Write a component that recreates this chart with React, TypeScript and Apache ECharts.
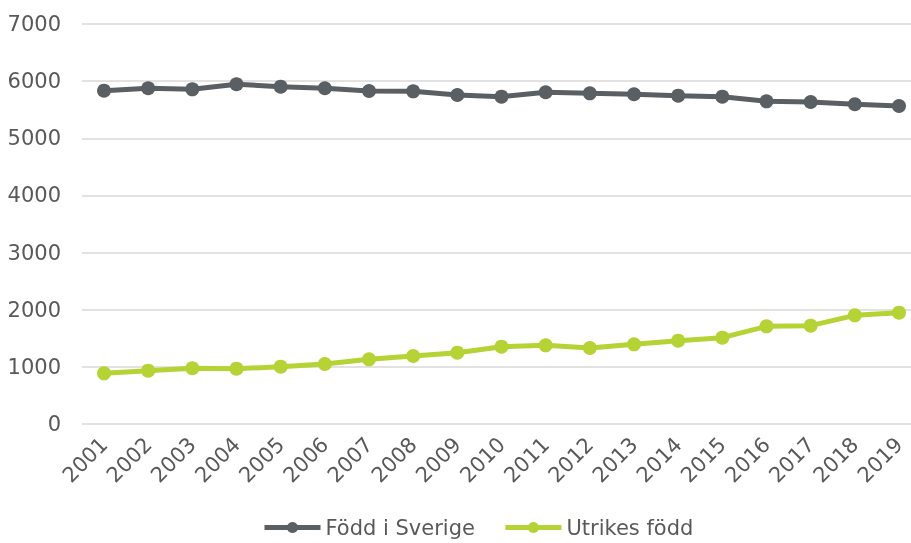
import React, { useEffect, useRef } from "react";
import * as echarts from "echarts";

const years = ["2001","2002","2003","2004","2005","2006","2007","2008","2009","2010","2011","2012","2013","2014","2015","2016","2017","2018","2019"];
const foddISverige = [5833, 5875, 5857, 5945, 5903, 5875, 5828, 5822, 5758, 5728, 5805, 5787, 5770, 5746, 5728, 5647, 5635, 5595, 5565];
const utrikesFodd = [887, 933, 975, 968, 1003, 1050, 1132, 1190, 1248, 1353, 1377, 1330, 1394, 1458, 1511, 1709, 1721, 1902, 1948];
const seriesNames = ["Född i Sverige", "Utrikes född"];
const colors = ["#595f63", "#b5d334"];

export default function App() {
  const ref = useRef<HTMLDivElement>(null);
  useEffect(() => {
    if (!ref.current) return;
    const chart = echarts.init(ref.current, undefined, { renderer: "svg" });
    const font = "DejaVu Sans, sans-serif";
    const textColor = "#595959";
    chart.setOption({
      animation: false,
      color: colors,
      grid: [
        { left: 104, right: 12, top: 24, bottom: 119 },
        { left: 82, right: 0, top: 24, bottom: 119 },
      ],
      legend: {
        left: 257,
        top: 512,
        itemWidth: 56,
        itemHeight: 14,
        itemGap: 28,
        textStyle: { fontSize: 21, color: textColor, fontFamily: font },
        data: seriesNames.map((n, i) => ({
          name: n,
          lineStyle: { width: 5, color: colors[i] },
          itemStyle: { color: colors[i] },
        })),
      },
      xAxis: [
        {
          type: "category",
          gridIndex: 0,
          data: years,
          boundaryGap: false,
          axisLine: { show: false },
          axisTick: { show: false },
          axisLabel: { rotate: 45, fontSize: 21, color: textColor, fontFamily: font, margin: 17, interval: 0 },
        },
        {
          type: "value",
          gridIndex: 1,
          show: false,
        },
      ],
      yAxis: [
        {
          type: "value",
          gridIndex: 0,
          min: 0,
          max: 7000,
          interval: 1000,
          show: false,
        },
        {
          type: "value",
          gridIndex: 1,
          min: 0,
          max: 7000,
          interval: 1000,
          axisLine: { show: false },
          axisTick: { show: false },
          axisLabel: { fontSize: 21, color: textColor, fontFamily: font, margin: 21, formatter: (v: number) => String(v) },
          splitLine: { lineStyle: { color: "#d9d9d9", width: 1.5 } },
        },
      ],
      series: [
        {
          name: seriesNames[0],
          type: "line",
          xAxisIndex: 0,
          yAxisIndex: 0,
          data: foddISverige,
          symbol: "circle",
          symbolSize: 14,
          lineStyle: { width: 5, color: colors[0] },
          itemStyle: { color: colors[0] },
        },
        {
          name: seriesNames[1],
          type: "line",
          xAxisIndex: 0,
          yAxisIndex: 0,
          data: utrikesFodd,
          symbol: "circle",
          symbolSize: 14,
          lineStyle: { width: 5, color: colors[1] },
          itemStyle: { color: colors[1] },
        },
      ],
    });
    return () => chart.dispose();
  }, []);
  return <div ref={ref} style={{ position: "fixed", left: 0, top: 0, width: 911, height: 543 }} />;
}
